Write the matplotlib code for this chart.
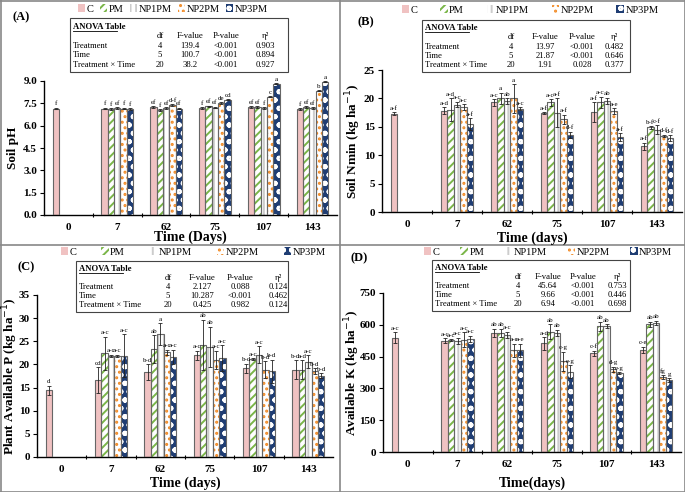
import numpy as np
import matplotlib
matplotlib.use('Agg')
import matplotlib.pyplot as plt
from matplotlib.patches import Rectangle
from matplotlib.lines import Line2D

plt.rcParams['font.family'] = ['Liberation Serif', 'DejaVu Serif']
plt.rcParams['hatch.linewidth'] = 1.4

nan = np.nan
days = ['0', '7', '62', '75', '107', '143']
treatments = ['C', 'PM', 'NP1PM', 'NP2PM', 'NP3PM']

# (A) soil pH
ph_C = [7.15, 7.15, 7.25, 7.2, 7.25, 7.12]
ph_PM = [nan, 7.12, 7.05, 7.3, 7.25, 7.25]
ph_NP1 = [nan, 7.2, 7.2, 7.22, 7.2, 7.2]
ph_NP2 = [nan, 7.15, 7.4, 7.52, 7.95, 8.35]
ph_NP3 = [nan, 7.12, 7.15, 7.75, 8.82, 8.95]
ph_err = [0.05] * 6
ph_lab_C = ['f', 'f', 'ef', 'f', 'ef', 'f']
ph_lab_PM = ['', 'f', 'f', 'ef', 'ef', 'ef']
ph_lab_NP1 = ['', 'ef', 'ef', 'ef', 'f', 'ef']
ph_lab_NP2 = ['', 'f', 'd-f', 'de', 'c', 'b']
ph_lab_NP3 = ['', 'f', 'ef', 'cd', 'a', 'a']
ph_anova = [['4', '139.4', '<0.001', '0.903'],
            ['5', '100.7', '<0.001', '0.894'],
            ['20', '38.2', '<0.001', '0.927']]

# (B) soil Nmin
n_C = [17.3, 17.8, 19.3, 17.4, 17.6, 11.6]
n_PM = [nan, 18.0, 20.0, 19.3, 19.3, 14.9]
n_NP1 = [nan, 18.9, 19.5, 17.5, 19.6, 14.5]
n_NP2 = [nan, 18.5, 20.0, 16.3, 17.8, 13.4]
n_NP3 = [nan, 15.5, 18.2, 13.6, 13.2, 13.0]
n_err_C = [0.3, 0.6, 0.6, 0.2, 1.7, 0.6]
n_err_PM = [0, 2.0, 1.0, 0.6, 1.0, 0.2]
n_err_NP1 = [0, 0.5, 0.5, 2.5, 0.5, 0.8]
n_err_NP2 = [0, 0.5, 2.5, 0.8, 0.5, 0.2]
n_err_NP3 = [0, 1.0, 0.2, 0.5, 0.7, 0.5]
n_lab_C = ['a-f', 'a-d', 'a-c', 'a-f', 'a-f', 'a-f']
n_lab_PM = ['', 'a-d', 'a', 'a-c', 'a-c', 'b-f']
n_lab_NP1 = ['', 'a-c', 'ab', 'a-f', 'ab', 'c-f']
n_lab_NP2 = ['', 'a-c', 'a', 'a-f', 'a-e', 'd-f']
n_lab_NP3 = ['', 'a-f', 'a-c', 'd-f', 'a-f', 'd-f']
n_anova = [['4', '13.97', '<0.001', '0.482'],
           ['5', '21.87', '<0.001', '0.646'],
           ['20', '1.91', '0.028', '0.377']]

# (C) plant available P
p_C = [14.4, 16.6, 18.3, 22.0, 19.2, 18.9]
p_PM = [nan, 22.4, 23.3, 24.2, 21.1, 18.9]
p_NP1 = [nan, 21.9, 26.6, 23.8, 22.1, 20.6]
p_NP2 = [nan, 21.8, 22.6, 21.0, 18.9, 18.6]
p_NP3 = [nan, 21.9, 21.6, 21.3, 18.5, 17.6]
p_err_C = [1.0, 2.8, 1.7, 1.0, 1.0, 2.0]
p_err_PM = [0, 3.6, 3.0, 5.5, 0.2, 2.0]
p_err_NP1 = [0, 0.2, 2.3, 4.3, 1.8, 1.4]
p_err_NP2 = [0, 0.3, 0.6, 2.0, 1.8, 0.6]
p_err_NP3 = [0, 4.6, 1.6, 2.8, 2.5, 0.5]
p_lab_C = ['d', 'cd', 'b-d', 'a-c', 'b-d', 'b-d']
p_lab_PM = ['', 'a-c', 'ab', 'ab', 'a-c', 'a-d']
p_lab_NP1 = ['', 'a-c', 'a', 'ab', 'a-c', 'a-c']
p_lab_NP2 = ['', 'a-c', 'a-c', 'a-c', 'b-d', 'b-d']
p_lab_NP3 = ['', 'a-c', 'a-c', 'a-c', 'b-d', 'b-d']
p_anova = [['4', '2.127', '0.088', '0.124'],
           ['5', '10.287', '<0.001', '0.462'],
           ['20', '0.425', '0.982', '0.124']]

# (D) available K
k_C = [540, 524, 562, 512, 465, 480]
k_PM = [nan, 527, 562, 568, 593, 602]
k_NP1 = [nan, 523, 551, 562, 593, 609]
k_NP2 = [nan, 530, 480, 429, 390, 352]
k_NP3 = [nan, 532, 480, 379, 371, 340]
k_err_C = [25, 12, 20, 30, 12, 15]
k_err_PM = [0, 5, 20, 35, 20, 12]
k_err_NP1 = [0, 15, 15, 15, 10, 10]
k_err_NP2 = [0, 35, 30, 45, 12, 10]
k_err_NP3 = [0, 15, 30, 30, 5, 8]
k_lab_C = ['a-c', 'a-c', 'ab', 'a-d', 'c-f', 'c-e']
k_lab_PM = ['', 'a-c', 'ab', 'ab', 'ab', 'ab']
k_lab_NP1 = ['', 'a-c', 'a-c', 'ab', 'ab', 'ab']
k_lab_NP2 = ['', 'a-c', 'a-e', 'c-g', 'd-g', 'fg']
k_lab_NP3 = ['', 'a-c', 'a-e', 'e-g', 'e-g', 'g']
k_anova = [['4', '45.64', '<0.001', '0.753'],
           ['5', '9.66', '<0.001', '0.446'],
           ['20', '6.94', '<0.001', '0.698']]

W, H = 685, 492
fig = plt.figure(figsize=(6.85, 4.92), dpi=100)

def fx(x):
    return x / W

def fy(y):
    return 1 - y / H

# bar styles: face, hatch, hatch colour
styles = [('#f0c2c2', '', '#f0c2c2'),
          ('white', '////', '#7ab648'),
          ('white', '|||', '#cccccc'),
          ('white', '...', '#f28c28'),
          ('#1f3d73', 'oo', 'white')]

panels = [
    dict(tag='(A)', box=(44, 81, 337, 215), ylim=9.0, step=1.5, fmt='%.1f',
         ylabel='Soil pH', xlabel='Time (Days)',
         vals=[ph_C, ph_PM, ph_NP1, ph_NP2, ph_NP3], errs=[ph_err] * 5,
         labs=[ph_lab_C, ph_lab_PM, ph_lab_NP1, ph_lab_NP2, ph_lab_NP3],
         anova=ph_anova, tbox=(70, 18, 288, 72), tcols=(160, 190, 226, 265),
         tag_xy=(12, 17), ylab_x=13, xlab_y=237, leg=(173, 9, 0.6)),
    dict(tag='(B)', box=(382, 70, 682, 212), ylim=25, step=5, fmt='%d',
         ylabel='Soil Nmin (kg ha$^{-1}$)', xlabel='Time (days)',
         vals=[n_C, n_PM, n_NP1, n_NP2, n_NP3],
         errs=[n_err_C, n_err_PM, n_err_NP1, n_err_NP2, n_err_NP3],
         labs=[n_lab_C, n_lab_PM, n_lab_NP1, n_lab_NP2, n_lab_NP3],
         anova=n_anova, tbox=(422, 20, 630, 72), tcols=(511, 545, 582, 614),
         tag_xy=(357, 22), ylab_x=353, xlab_y=238, leg=(530, 10, 2.2)),
    dict(tag='(C)', box=(37, 295, 333, 457), ylim=35, step=5, fmt='%d',
         ylabel='Plant Available P (kg ha$^{-1}$)', xlabel='Time (days)',
         vals=[p_C, p_PM, p_NP1, p_NP2, p_NP3],
         errs=[p_err_C, p_err_PM, p_err_NP1, p_err_NP2, p_err_NP3],
         labs=[p_lab_C, p_lab_PM, p_lab_NP1, p_lab_NP2, p_lab_NP3],
         anova=p_anova, tbox=(76, 261, 288, 312), tcols=(168, 202, 240, 278),
         tag_xy=(18, 267), ylab_x=10, xlab_y=483, leg=(193, 252, 2.4)),
    dict(tag='(D)', box=(383, 293, 681, 452), ylim=750, step=150, fmt='%d',
         ylabel='Available K (kg ha$^{-1}$)', xlabel='Time(days)',
         vals=[k_C, k_PM, k_NP1, k_NP2, k_NP3],
         errs=[k_err_C, k_err_PM, k_err_NP1, k_err_NP2, k_err_NP3],
         labs=[k_lab_C, k_lab_PM, k_lab_NP1, k_lab_NP2, k_lab_NP3],
         anova=k_anova, tbox=(432, 260, 630, 311), tcols=(518, 548, 583, 617),
         tag_xy=(350, 258), ylab_x=352, xlab_y=483, leg=(548, 252, 2.0)),
]

bw = 0.13
x = np.arange(len(days))
for p in panels:
    x0, y0, x1, y1 = p['box']
    ax = fig.add_axes([fx(x0), fy(y1), (x1 - x0) / W, (y1 - y0) / H])
    handles = []
    for k in range(5):
        face, hatch, hcol = styles[k]
        v = np.array(p['vals'][k], dtype=float)
        e = np.array(p['errs'][k], dtype=float)
        pos = x + (k - 2) * bw
        ok = ~np.isnan(v)
        ax.bar(pos[ok], v[ok], bw, color=face, hatch=hatch, edgecolor=hcol, linewidth=0, zorder=2)
        ax.bar(pos[ok], v[ok], bw, fill=False, edgecolor='#666666', linewidth=0.8, zorder=3)
        ax.errorbar(pos[ok], v[ok], yerr=e[ok], fmt='none', ecolor='#222222',
                    elinewidth=0.6, capsize=1.5, capthick=0.6, zorder=4)
        for i in np.where(ok)[0]:
            ax.text(pos[i], v[i] + e[i] + p['ylim'] * 0.01, p['labs'][k][i],
                    ha='center', va='bottom', fontsize=5, zorder=5)
        handles.append(Rectangle((0, 0), 1, 1, facecolor=face, hatch=hatch,
                                 edgecolor=hcol, linewidth=0))
    ax.set_xlim(-0.5, len(days) - 0.5)
    ax.set_ylim(0, p['ylim'])
    yt = np.arange(0, p['ylim'] + p['step'] / 2, p['step'])
    ax.set_yticks(yt)
    ax.set_yticklabels([p['fmt'] % t for t in yt], fontsize=8, fontweight='bold')
    ax.set_xticks(x)
    ax.set_xticklabels(days, fontsize=8, fontweight='bold')
    ax.set_xticks(np.arange(0.5, len(days) - 1, 1), minor=True)
    ax.tick_params(axis='x', which='major', length=0, pad=6)
    ax.tick_params(axis='x', which='minor', length=3, direction='inout', width=0.8)
    ax.tick_params(axis='y', length=3, width=0.8, pad=2)
    for s in ['top', 'right']:
        ax.spines[s].set_visible(False)
    for s in ['left', 'bottom']:
        ax.spines[s].set_linewidth(1.0)
    ax.patch.set_alpha(0)

    fig.text(fx(p['ylab_x']), fy((y0 + y1) / 2), p['ylabel'], rotation=90,
             ha='center', va='center', fontsize=9.5, fontweight='bold')
    fig.text(fx((x0 + x1) / 2), fy(p['xlab_y']), p['xlabel'],
             ha='center', va='center', fontsize=10, fontweight='bold')
    fig.text(fx(p['tag_xy'][0]), fy(p['tag_xy'][1]), p['tag'],
             ha='left', va='center', fontsize=9, fontweight='bold')

    lx, ly, cs = p['leg']
    fig.legend(handles, treatments, loc='center', bbox_to_anchor=(fx(lx), fy(ly)),
               bbox_transform=fig.transFigure, ncol=5, frameon=False, fontsize=7.5,
               handlelength=0.7, handleheight=0.7, handletextpad=0.15,
               columnspacing=cs, borderpad=0)

    # ANOVA table
    tx0, ty0, tx1, ty1 = p['tbox']
    fig.add_artist(Rectangle((fx(tx0), fy(ty1)), (tx1 - tx0) / W, (ty1 - ty0) / H,
                             transform=fig.transFigure, fill=False,
                             edgecolor='#444444', linewidth=0.8))
    th = ty1 - ty0
    fig.text(fx(tx0 + 3), fy(ty0 + 0.16 * th), 'ANOVA Table', fontsize=6.2,
             fontweight='bold', ha='left', va='center')
    fig.add_artist(Line2D([fx(tx0 + 3), fx(tx0 + 47)], [fy(ty0 + 0.16 * th + 4)] * 2,
                          transform=fig.transFigure, color='black', linewidth=0.6))
    heads = ['df', 'F-value', 'P-value', 'η²']
    for c, hd in zip(p['tcols'], heads):
        fig.text(fx(c), fy(ty0 + 0.33 * th), hd, fontsize=6.2, ha='center', va='center')
    rnames = ['Treatment', 'Time', 'Treatment × Time']
    for r, (nm, row) in enumerate(zip(rnames, p['anova'])):
        yy = fy(ty0 + (0.51 + 0.18 * r) * th)
        fig.text(fx(tx0 + 3), yy, nm, fontsize=6.2, ha='left', va='center')
        for c, val in zip(p['tcols'], row):
            fig.text(fx(c), yy, val, fontsize=6.2, ha='center', va='center')

# panel frames
for seg in [([0, 685], [0.5, 0.5]), ([0, 685], [245, 245]), ([0, 685], [491.5, 491.5]),
            ([0.5, 0.5], [0, 492]), ([340, 340], [0, 492]), ([684.5, 684.5], [0, 492])]:
    fig.add_artist(Line2D([fx(v) for v in seg[0]], [fy(v) for v in seg[1]],
                          transform=fig.transFigure, color='#888888', linewidth=1.2))

fig.savefig('out.png', dpi=100)
